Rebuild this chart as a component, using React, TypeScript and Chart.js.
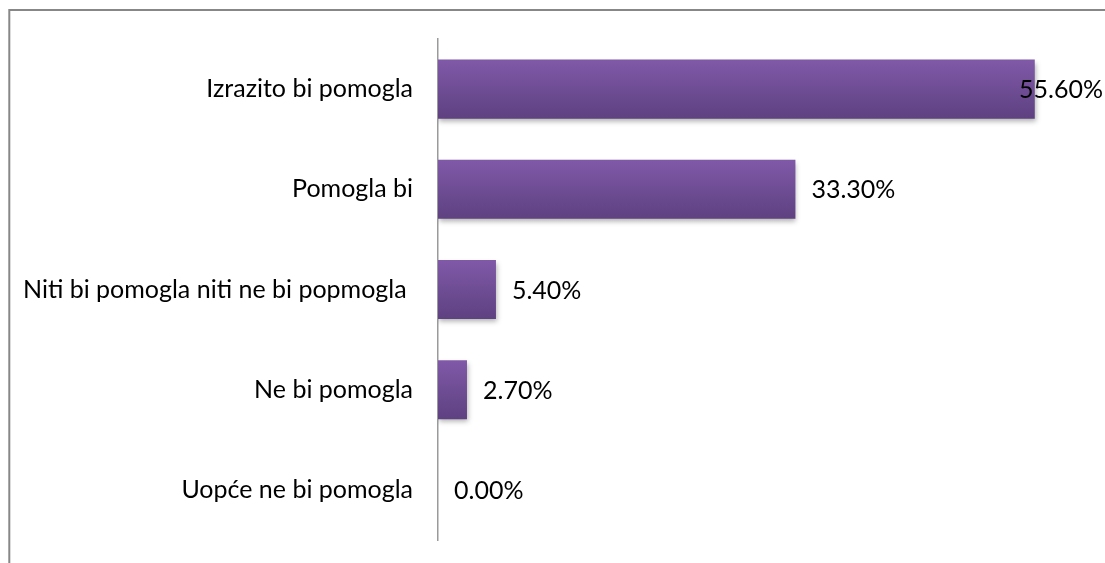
import React, { useEffect, useRef } from "react";
import { Chart, registerables } from "chart.js";

Chart.register(...registerables);

const categories = [
  "Izrazito bi pomogla",
  "Pomogla bi",
  "Niti bi pomogla niti ne bi popmogla ",
  "Ne bi pomogla",
  "Uopće ne bi pomogla",
];
const values = [55.6, 33.3, 5.4, 2.7, 0.0];
const valueLabels = ["55.60%", "33.30%", "5.40%", "2.70%", "0.00%"];
const axisMin = 0;
const axisMax = 60;

const FONT_FAMILY = "Lato, 'Noto Sans', sans-serif";
const FONT_SIZE = 25;
const BAR_PCT = 0.59;

export default function App() {
  const ref = useRef<HTMLCanvasElement | null>(null);

  useEffect(() => {
    const canvas = ref.current;
    if (!canvas) return;

    const framePlugin = {
      id: "frame",
      beforeDraw(chart: any) {
        const ctx = chart.ctx;
        ctx.save();
        ctx.fillStyle = "#ffffff";
        ctx.fillRect(0, 0, chart.width, chart.height);
        ctx.strokeStyle = "#878787";
        ctx.lineWidth = 2;
        ctx.strokeRect(9.3, 10, 1300, 1300);
        ctx.restore();
      },
    };

    const shadowPlugin = {
      id: "barShadow",
      beforeDatasetsDraw(chart: any) {
        const ctx = chart.ctx;
        ctx.save();
        ctx.shadowColor = "rgba(0,0,0,0.3)";
        ctx.shadowBlur = 5;
        ctx.shadowOffsetX = 1;
        ctx.shadowOffsetY = 3;
      },
      afterDatasetsDraw(chart: any) {
        chart.ctx.restore();
      },
    };

    const valueLabelPlugin = {
      id: "valueLabels",
      afterDraw(chart: any) {
        const ctx = chart.ctx;
        const meta = chart.getDatasetMeta(0);
        ctx.save();
        ctx.font = `${FONT_SIZE}px ${FONT_FAMILY}`;
        ctx.fillStyle = "#000000";
        ctx.textAlign = "left";
        ctx.textBaseline = "middle";
        meta.data.forEach((el: any, i: number) => {
          const txt = valueLabels[i];
          const w = ctx.measureText(txt).width;
          let x = el.x + 16;
          if (x + w > 1103) x = 1103 - w;
          ctx.fillText(txt, x, el.y + 1);
        });
        ctx.restore();
      },
    };

    const barFill = (c: any) => {
      const chart = c.chart;
      const yScale = chart.scales && chart.scales.y;
      if (!chart.chartArea || !yScale || c.dataIndex === undefined) return "#6f4b94";
      const center = yScale.getPixelForValue(c.dataIndex);
      const half = ((yScale.height / categories.length) * BAR_PCT) / 2;
      const g = chart.ctx.createLinearGradient(0, center - half, 0, center + half);
      g.addColorStop(0, "#8059a8");
      g.addColorStop(1, "#5e4181");
      return g;
    };

    const chart = new Chart(canvas, {
      type: "bar",
      data: {
        labels: categories,
        datasets: [
          {
            data: values,
            backgroundColor: barFill,
            borderWidth: 0,
            barPercentage: BAR_PCT,
            categoryPercentage: 1,
          },
        ],
      },
      options: {
        indexAxis: "y",
        responsive: false,
        animation: false,
        devicePixelRatio: 1,
        layout: { padding: { left: 0, right: 23, top: 39, bottom: 23 } },
        plugins: {
          legend: { display: false },
          tooltip: { enabled: false },
        },
        scales: {
          x: {
            type: "linear",
            min: axisMin,
            max: axisMax,
            display: false,
            grid: { display: false },
          },
          y: {
            type: "category",
            grid: { display: false, drawTicks: false },
            border: { display: true, color: "#9a9a9a", width: 1.5 },
            ticks: {
              color: "#000000",
              padding: 25,
              font: { family: FONT_FAMILY, size: FONT_SIZE },
            },
            afterFit(scale: any) {
              scale.width = 438;
              scale.paddingTop = 0;
              scale.paddingBottom = 0;
            },
          },
        },
      },
      plugins: [framePlugin, shadowPlugin, valueLabelPlugin],
    } as any);

    return () => chart.destroy();
  }, []);

  return (
    <div style={{ position: "fixed", left: 0, top: 0, width: 1105, height: 563 }}>
      <canvas ref={ref} width={1105} height={563} style={{ display: "block" }} />
    </div>
  );
}
